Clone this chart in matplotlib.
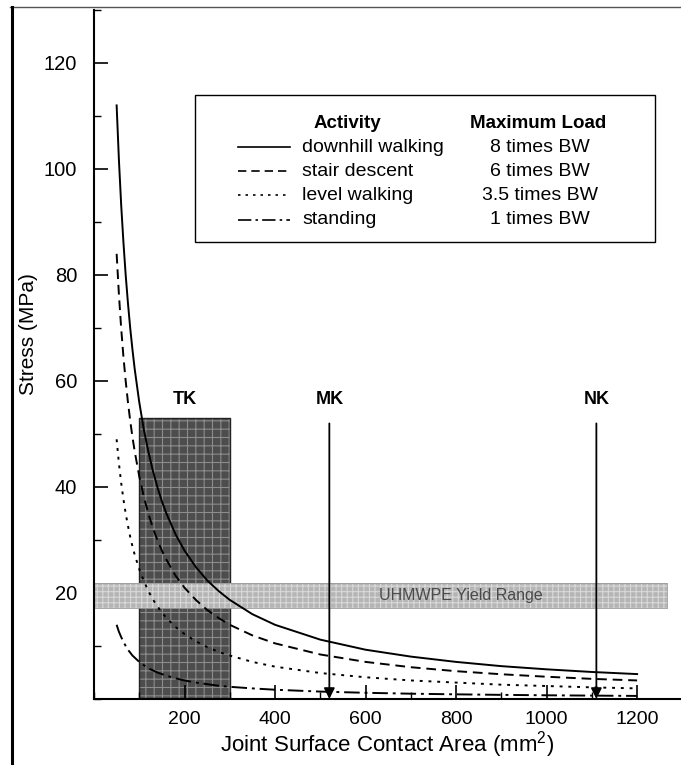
import matplotlib
matplotlib.use("Agg")
import matplotlib.pyplot as plt
from matplotlib.patches import Rectangle
from matplotlib.lines import Line2D
from matplotlib.ticker import MultipleLocator

plt.rcParams['font.family'] = ['Liberation Sans', 'DejaVu Sans']
plt.rcParams['mathtext.fontset'] = 'custom'
plt.rcParams['mathtext.rm'] = 'Liberation Sans'
plt.rcParams['hatch.linewidth'] = 0.8

# ---------------- data ----------------
area = [50, 55, 60, 65, 70, 75, 80, 85, 90, 100, 110, 120, 130, 140, 150, 160, 180,
        200, 225, 250, 275, 300, 350, 400, 500, 600, 700, 800, 900, 1000, 1100, 1200]
downhill = [112, 101.8, 93.3, 86.2, 80, 74.7, 70, 65.9, 62.2, 56, 50.9, 46.7, 43.1, 40,
            37.3, 35, 31.1, 28, 24.9, 22.4, 20.4, 18.7, 16, 14, 11.2, 9.3, 8, 7, 6.2,
            5.6, 5.1, 4.7]
stair = [84, 76.4, 70, 64.6, 60, 56, 52.5, 49.4, 46.7, 42, 38.2, 35, 32.3, 30, 28, 26.3,
         23.3, 21, 18.7, 16.8, 15.3, 14, 12, 10.5, 8.4, 7, 6, 5.25, 4.67, 4.2, 3.8, 3.5]
level = [49, 44.5, 40.8, 37.7, 35, 32.7, 30.6, 28.8, 27.2, 24.5, 22.3, 20.4, 18.8, 17.5,
         16.3, 15.3, 13.6, 12.25, 10.9, 9.8, 8.9, 8.2, 7, 6.1, 4.9, 4.1, 3.5, 3.1, 2.7,
         2.45, 2.2, 2.0]
standing = [14, 12.7, 11.7, 10.8, 10, 9.3, 8.75, 8.2, 7.8, 7, 6.4, 5.8, 5.4, 5, 4.7, 4.4,
            3.9, 3.5, 3.1, 2.8, 2.5, 2.3, 2.0, 1.75, 1.4, 1.17, 1.0, 0.88, 0.78, 0.7,
            0.64, 0.58]

activities = ["downhill walking", "stair descent", "level walking", "standing"]
loads = ["8 times BW", "6 times BW", "3.5 times BW", "1 times BW"]

tk_range = (100, 300)
tk_top = 53
yield_x = (0, 1265)
yield_range = (17.2, 21.9)
implants = ["TK", "MK", "NK"]
implant_x = [200, 520, 1110]
arrow_top = 52
label_y = 56.5

W, H = 681, 765
fig = plt.figure(figsize=(W / 100, H / 100), dpi=100)
ax = fig.add_axes([94 / W, 1 - 699 / H, (W - 94) / W, (699 - 10) / H])

# TK box
ax.fill_between(list(tk_range), [0, 0], [tk_top, tk_top], facecolor='#4d4d4d',
                edgecolor='#8c8c8c', hatch='++', linewidth=0, zorder=1)
ax.fill_between(list(tk_range), [0, 0], [tk_top, tk_top], facecolor='none',
                edgecolor='#222222', linewidth=1.0, zorder=1.1)
# yield band
ax.fill_between(list(yield_x), [yield_range[0]] * 2, [yield_range[1]] * 2,
                facecolor='#b5b5b5', edgecolor='#d8d8d8', hatch='+++', linewidth=0, zorder=2)
ax.fill_between(list(yield_x), [yield_range[0]] * 2, [yield_range[1]] * 2,
                facecolor='none', edgecolor='#9a9a9a', linewidth=0.6, zorder=2.1)
ax.text(810, sum(yield_range) / 2, "UHMWPE Yield Range", ha='center', va='center',
        fontsize=11.5, color='#4a4a4a', zorder=2.2)

styles = ['-', (0, (5, 3)), (0, (1.5, 3)), (0, (8, 2.5, 1.5, 2.5))]
series = [downhill, stair, level, standing]
for s, ls in zip(series, styles):
    ax.plot(area, s, color='black', linestyle=ls, linewidth=1.4, zorder=3)

# implant labels and arrows
for name, xv in zip(implants, implant_x):
    ax.text(xv, label_y, name, ha='center', va='center', fontsize=13,
            fontweight='bold', zorder=5)
for xv in implant_x[1:]:
    ax.annotate('', xy=(xv, 0), xytext=(xv, arrow_top),
                arrowprops=dict(arrowstyle='-|>', color='black', lw=1.3,
                                mutation_scale=16, shrinkA=0, shrinkB=0), zorder=4)

ax.set_xlim(0, 1297)
ax.set_ylim(0, 130)
ax.xaxis.set_minor_locator(MultipleLocator(100))
ax.yaxis.set_minor_locator(MultipleLocator(10))
ax.set_xticks([200, 400, 600, 800, 1000, 1200])
ax.set_yticks([20, 40, 60, 80, 100, 120])
ax.tick_params(which='major', direction='in', length=10, width=1.2)
ax.tick_params(which='minor', direction='in', length=5, width=1.0)
ax.tick_params(axis='y', labelsize=14.5, pad=12)
ax.tick_params(axis='x', labelsize=14, pad=8.5)
for sp in ['top', 'right']:
    ax.spines[sp].set_visible(False)
ax.spines['left'].set_linewidth(1.5)
ax.spines['bottom'].set_linewidth(1.5)

fig.text(387 / W, 1 - 745 / H, "Joint Surface Contact Area (mm$^{2}$)", ha='center',
         va='center', fontsize=16)
fig.text(28 / W, 1 - 334 / H, "Stress (MPa)", rotation=90, ha='center', va='center',
         fontsize=15)

# outer frame
fig.add_artist(Line2D([10 / W, 1], [1 - 7 / H, 1 - 7 / H], color='#555555', lw=1.0))
fig.add_artist(Line2D([12 / W, 12 / W], [0, 1 - 7 / H], color='black', lw=2.2))

# legend table
def P(x, y):
    return (x / W, 1 - y / H)

x0, y0 = P(195, 242)
fig.add_artist(Rectangle((x0, y0), (655 - 195) / W, (242 - 95) / H,
                         facecolor='white', edgecolor='black', lw=1.0,
                         transform=fig.transFigure, zorder=6))
fig.text(*P(347, 123), "Activity", ha='center', va='center', fontsize=13.5,
         fontweight='bold', zorder=7)
fig.text(*P(538, 123), "Maximum Load", ha='center', va='center', fontsize=13.5,
         fontweight='bold', zorder=7)
rows_y = [147, 171, 195, 220]
for ry, ls, act, ld in zip(rows_y, styles, activities, loads):
    (lx0, ly), (lx1, _) = P(238, ry), P(290, ry)
    fig.add_artist(Line2D([lx0, lx1], [ly, ly], color='black', linestyle=ls,
                          lw=1.2, zorder=7))
    fig.text(*P(302, ry), act, ha='left', va='center', fontsize=14, zorder=7)
    fig.text(*P(540, ry), ld, ha='center', va='center', fontsize=14, zorder=7)

fig.savefig("out.png", dpi=100)
